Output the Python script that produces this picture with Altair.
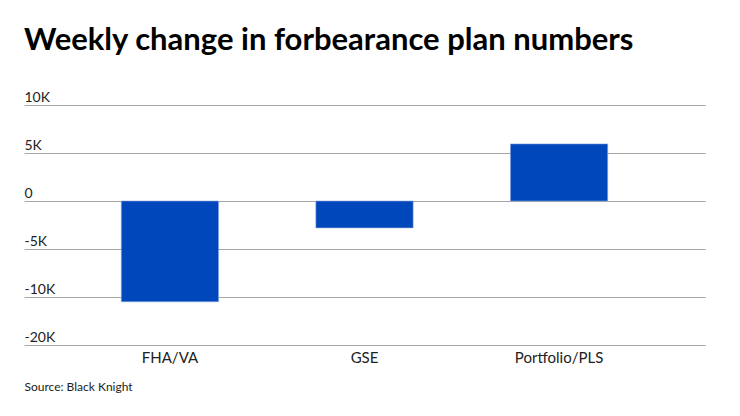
import altair as alt
import pandas as pd

categories = ["FHA/VA", "GSE", "Portfolio/PLS"]
values = [-10500, -2800, 5950]
tick_values = [10000, 5000, 0, -5000, -10000, -15000]
tick_labels = ["10K", "5K", "0", "-5K", "-10K", "-20K"]

df = pd.DataFrame({"category": categories, "value": values})

label_expr = " : ".join(
    f"datum.value == {v} ? '{l}'" for v, l in zip(tick_values, tick_labels)
) + " : ''"

chart = alt.Chart(df).mark_bar(color="#0047BB", stroke="#8fa8dd", strokeWidth=0.6).encode(
    x=alt.X("category:N", sort=categories,
            scale=alt.Scale(paddingInner=0.5, paddingOuter=0.5),
            axis=alt.Axis(title="Source: Black Knight", labelAngle=0, labelFont="Lato",
                          labelFontSize=15, labelColor="#222", ticks=False, domain=False,
                          labelPadding=5, titleFont="Lato", titleFontSize=12,
                          titleFontWeight="normal", titleColor="#222", titleAnchor="start",
                          titleAlign="left", titlePadding=16)),
    y=alt.Y("value:Q", scale=alt.Scale(domain=[-15000, 10000], nice=False),
            axis=alt.Axis(title=None, values=tick_values, labelExpr=label_expr,
                          labelAlign="left", labelBaseline="alphabetic", labelPadding=0,
                          labelOffset=-4, labelFont="Lato", labelFontSize=14,
                          labelColor="#222", ticks=False, domain=False,
                          grid=True, gridColor="#a6a6a6", gridWidth=1.2)),
).properties(
    width=681, height=240,
    title=alt.TitleParams("Weekly change in forbearance plan numbers", font="Lato",
                          fontSize=31, fontWeight="bold", color="#000", anchor="start",
                          offset=33),
    autosize=alt.AutoSizeParams(type="none"),
    padding={"left": 16, "top": 97, "right": 24, "bottom": 60},
).configure_view(stroke=None)

chart.save("out.html", embed_options={"renderer": "svg", "actions": False})
